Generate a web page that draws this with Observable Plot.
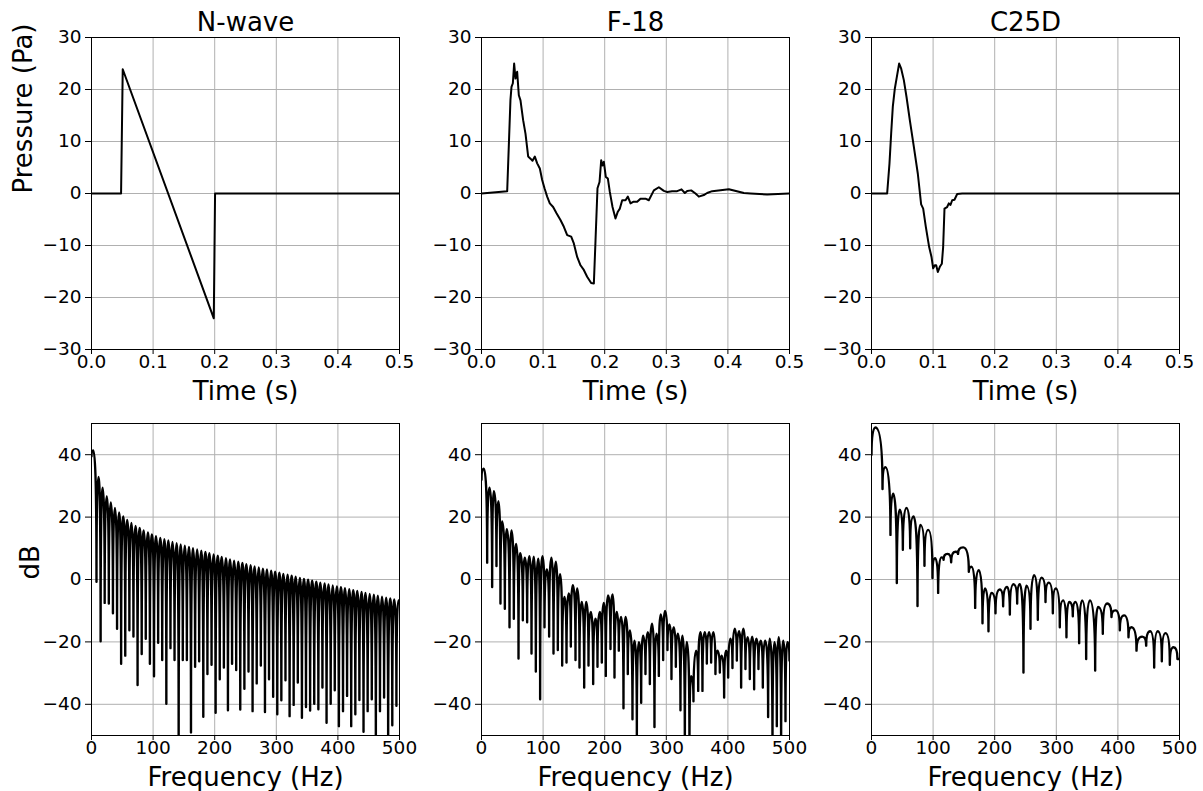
<!DOCTYPE html>
<html><head><meta charset="utf-8">
<script src="https://cdn.jsdelivr.net/npm/d3@7"></script>
<script src="https://cdn.jsdelivr.net/npm/@observablehq/plot@0.6"></script>
<style>
body{margin:0;background:#fff;}
#chart{position:relative;width:1203px;height:791px;overflow:hidden;background:#fff;}
#chart svg{position:absolute;}
</style></head><body><div id="chart"></div>
<script>
// ---------- Titles / labels ----------
const titles = ["N-wave", "F-18", "C25D"];
const timeLabel = "Time (s)";
const freqLabel = "Frequency (Hz)";
const pressureLabel = "Pressure (Pa)";
const dbLabel = "dB";
const timeTicks = [0, 0.1, 0.2, 0.3, 0.4, 0.5];
const pressureTicks = [-30, -20, -10, 0, 10, 20, 30];
const freqTicks = [0, 100, 200, 300, 400, 500];
const dbTicks = [-40, -20, 0, 20, 40];

// ---------- Time signals ----------
const nwaveT = [0, 0.048, 0.0507, 0.1985, 0.2006, 0.5];
const nwaveP = [0, 0, 23.9, -24, 0, 0];

const f18T = [0, 0.0417, 0.047, 0.0487, 0.0509, 0.053, 0.0552, 0.0579, 0.0606, 0.0633, 0.0676, 0.0714, 0.0758, 0.0795, 0.0828, 0.0866, 0.0904, 0.0947, 0.0985, 0.1023, 0.1066, 0.1109, 0.1163, 0.1218, 0.1282, 0.1337, 0.1391, 0.1456, 0.1499, 0.1553, 0.1607, 0.1661, 0.1715, 0.178, 0.1824, 0.1851, 0.1883, 0.1916, 0.1943, 0.1964, 0.1986, 0.2018, 0.2051, 0.2083, 0.2127, 0.2175, 0.2213, 0.2246, 0.2284, 0.2338, 0.2376, 0.2419, 0.2462, 0.2527, 0.2581, 0.2662, 0.2716, 0.2798, 0.2879, 0.296, 0.3014, 0.3095, 0.3176, 0.3247, 0.3301, 0.3339, 0.3404, 0.3474, 0.3528, 0.3609, 0.3663, 0.3745, 0.4015, 0.4259, 0.4367, 0.4637, 0.5];
const f18P = [0, 0.45, 18, 20.5, 21.2, 25, 22.1, 23.4, 18.9, 17.9, 14.1, 11.5, 7.1, 6.7, 6.3, 7.1, 5.8, 4.8, 2.6, 1, -0.6, -1.9, -2.6, -3.8, -5.1, -6.4, -8, -8.3, -9.6, -12.2, -13.8, -14.7, -16, -17.2, -17.3, -9, 1, 2.2, 6.4, 5.4, 6.1, 3.2, 2.9, 0.3, -2.6, -4.8, -3.5, -2.9, -1.3, -1.3, -0.6, -1.9, -1.6, -1.6, -1, -1, -1.3, 0.6, 1.2, 0.5, 0.3, 0.45, 0.45, 0.8, 0.1, 0.5, 0.6, 0, -0.6, -0.3, 0.1, 0.45, 0.8, 0.1, 0, -0.2, 0];

const c25T = [0, 0.0254, 0.0292, 0.0319, 0.0346, 0.0379, 0.0417, 0.0449, 0.0482, 0.0525, 0.0568, 0.0622, 0.0687, 0.0752, 0.0806, 0.0839, 0.0882, 0.0936, 0.0974, 0.1001, 0.1028, 0.105, 0.1077, 0.1109, 0.1142, 0.1163, 0.1185, 0.1228, 0.1255, 0.1282, 0.131, 0.1347, 0.1391, 0.1472, 0.5];
const c25P = [0, 0, 5.8, 11.5, 16.7, 20.2, 22.8, 25, 24, 21.8, 18.6, 14.1, 9, 3.8, -2.1, -2.9, -6.4, -10.3, -12.2, -14.4, -13.8, -13.8, -15.1, -14.1, -13.5, -10.3, -2.9, -2.6, -1.9, -2.2, -1.3, -1.2, -0.1, 0, 0];

// ---------- Spectra ----------
// N-wave: lobe peaks and notches
const nwaveEdgeHz = [0, 500];
const nwaveEdgeDb = [39.5, -7.5];
const nwavePeakHz = [3, 11.4, 18.1, 24.8, 31.4, 38.1, 44.8, 51.5, 58.1, 64.8, 71.5, 78.1, 84.8, 91.5, 98.1, 104.8, 111.5, 118.2, 124.8, 131.5, 138.2, 144.8, 151.5, 158.2, 164.8, 171.5, 178.2, 184.8, 191.5, 198.2, 204.9, 211.5, 218.2, 224.9, 231.5, 238.2, 244.9, 251.5, 258.2, 264.9, 271.5, 278.2, 284.9, 291.5, 298.2, 304.9, 311.6, 318.2, 324.9, 331.6, 338.2, 344.9, 351.6, 358.2, 364.9, 371.6, 378.3, 384.9, 391.6, 398.3, 404.9, 411.6, 418.3, 424.9, 431.6, 438.3, 444.9, 451.6, 458.3, 464.9, 471.6, 478.3, 484.9, 491.6, 498.3];
const nwavePeakDb = [41.4, 32.9, 29.4, 26.7, 24.7, 22.9, 21.5, 20.2, 19.1, 18.1, 17.2, 16.5, 15.7, 15.1, 14.4, 13.9, 13.3, 12.9, 12.5, 12.0, 11.6, 11.2, 10.8, 10.4, 10.0, 9.6, 9.2, 8.8, 8.4, 8.0, 7.6, 7.2, 6.8, 6.4, 6.0, 5.7, 5.3, 4.9, 4.6, 4.2, 3.9, 3.5, 3.2, 2.8, 2.5, 2.2, 1.8, 1.5, 1.2, 0.9, 0.5, 0.2, -0.1, -0.4, -0.7, -1.0, -1.3, -1.6, -1.9, -2.2, -2.5, -2.8, -3.1, -3.4, -3.7, -4.0, -4.3, -4.6, -4.9, -5.2, -5.5, -5.8, -6.1, -6.4, -6.7];
const nwaveNotchHz = [8.1, 14.8, 21.4, 28.1, 34.8, 41.5, 48.1, 54.8, 61.5, 68.1, 74.8, 81.5, 88.1, 94.8, 101.5, 108.2, 114.8, 121.5, 128.2, 134.8, 141.5, 148.2, 154.8, 161.5, 168.2, 174.8, 181.5, 188.2, 194.9, 201.5, 208.2, 214.9, 221.5, 228.2, 234.9, 241.5, 248.2, 254.9, 261.5, 268.2, 274.9, 281.6, 288.2, 294.9, 301.6, 308.2, 314.9, 321.6, 328.2, 334.9, 341.6, 348.2, 354.9, 361.6, 368.3, 374.9, 381.6, 388.3, 394.9, 401.6, 408.3, 414.9, 421.6, 428.3, 434.9, 441.6, 448.3, 455, 461.6, 468.3, 475, 481.6, 488.3, 495];
const nwaveNotchDb = [-0.7, -19.8, -7.5, -7.7, -10.8, -15.8, -27, -24.4, -16.3, -18.3, -33.8, -23.9, -19, -27, -31, -20.3, -25.8, -39.8, -22, -25.8, -56, -25.8, -25.8, -49, -28, -26.2, -44, -30.3, -27.3, -42.7, -32, -28.2, -41.9, -27, -29, -41.7, -35, -29.5, -42.2, -33.3, -27.6, -42.5, -32, -37.6, -43.2, -38.7, -32.3, -43.8, -40.2, -33, -44.3, -40.9, -42, -39.8, -41.6, -34.6, -45.9, -39.8, -35.5, -47, -42.2, -37.3, -47, -43.2, -38.6, -48.8, -42.2, -38.4, -56, -42.2, -37.8, -56, -46.7, -40.5];

const f18Hz = [0, 3.8, 9.2, 13, 17.3, 20, 24.3, 27.6, 30.8, 33.5, 37.9, 41.1, 45.5, 48.7, 52.5, 56.3, 60.1, 62.8, 67.1, 70.3, 74.1, 77.9, 81.2, 84.9, 88.2, 92, 95.2, 99, 102.3, 106.1, 109.8, 113.6, 116.9, 120.7, 123.9, 127.7, 131, 134.7, 138, 141.8, 145, 148.3, 152.6, 155.3, 159.1, 162.9, 166.7, 169.9, 173.7, 177.5, 181.3, 185.1, 188.3, 192.1, 195.3, 198.6, 201.8, 205.6, 209.4, 212.7, 215.9, 219.7, 222.9, 226.7, 230.5, 233.8, 237.5, 240.8, 245.1, 248.4, 252.2, 255.4, 259.2, 262.4, 266.2, 270, 273.3, 277, 280.8, 284.1, 287.9, 291.1, 294.9, 298.1, 301.9, 305.2, 308.4, 312.2, 315.5, 318.7, 323, 326.3, 330.1, 333.3, 337.6, 340.3, 344.1, 348.5, 351.8, 355.5, 358.7, 362.5, 365.8, 369.5, 372.8, 376.6, 379.8, 383, 386.9, 390.1, 393.9, 397.1, 400.4, 404.2, 407.4, 411.2, 414.5, 418.2, 421.5, 425.3, 428.5, 432.3, 435.6, 439.4, 442.6, 446.4, 449.6, 453.4, 456.7, 460.5, 465.3, 468, 472.4, 475.6, 479.4, 482.6, 486.4, 489.7, 493.5, 496.7, 500];
const f18Db = [32, 35.5, 5.4, 29.4, -2.4, 28.3, 4.3, 25.1, -7.7, 18.6, -9.4, 16.1, -15.3, 15.7, -12.6, 11.4, -25.3, 8.4, -13.1, 7, -13.7, 7.5, -23.7, 7.3, -29.5, 6.7, -38.4, 7.5, -15.3, 3.2, -18.3, 7, -23.7, 5.7, -22.6, 1.7, -27.6, -5.6, -26.6, -4.5, -21.5, -1.8, -25.8, -2.9, -28.2, -7.2, -34.6, -7.2, -27.6, -10.4, -33.5, -12.6, -28, -10.4, -26.6, -7.5, -30.9, -5.1, -22.3, -4.8, -31.4, -10.4, -22.8, -12, -41.3, -12, -30.3, -16.3, -44.8, -19.6, -50.5, -20.1, -39.5, -18, -30.3, -16.9, -33.5, -14.2, -47.3, -17.4, -30.9, -11.2, -25.8, -10.1, -22.6, -14.4, -31.9, -15.3, -28, -17.4, -41.9, -18, -56, -20, -56, -31, -39, -22.8, -35.7, -16.9, -35.7, -16.9, -26.9, -16.9, -26.6, -16.9, -30.3, -22.8, -29.8, -24.4, -37.8, -22.8, -31.4, -19, -28.4, -15.8, -26, -16.6, -34.6, -15.8, -28.7, -18.5, -31.9, -18.3, -35.2, -19, -28.7, -19.6, -34.6, -19.6, -44.1, -19, -56, -20.1, -47, -18.5, -56, -19.6, -45.4, -20.1, -26];

const c25Hz = [0, 6.5, 17.9, 22.7, 30.8, 35.2, 41.1, 46, 50.9, 56.8, 62.8, 68.2, 74.7, 79.5, 86, 92, 99, 103.4, 108.2, 113.6, 117, 123.4, 129.3, 136.4, 140.5, 148.8, 158, 162.3, 168.3, 174.2, 180.2, 184.5, 189.9, 194.8, 201.3, 208.3, 213.7, 220.2, 224.6, 230.5, 236.5, 240.8, 246.7, 251.6, 258.1, 264, 270, 276, 282.5, 287.9, 294.4, 299.2, 305.7, 311.1, 316.5, 320.9, 326.8, 331.2, 337.1, 342, 348.5, 354.4, 363.1, 367.9, 375.5, 382.5, 389.6, 396.1, 403.1, 410.1, 417.2, 422, 430.2, 439.4, 445.9, 452.4, 458.9, 464.8, 471.3, 477.3, 484.3, 490.2, 496.7, 500];
const c25Db = [40, 48.7, 29, 36, 14.3, 27.5, -1.1, 22.4, 9.5, 22.9, 10, 20.2, -8.5, 17.5, 4.4, 15.9, 0.5, 6.8, -4.3, 7.1, 6.3, 8.2, 5.5, 8.9, 8.2, 10.3, 2.5, 4.1, -9.1, 3, -14, -2.9, -16.6, -4.3, -10.8, -3.2, -8.6, -2.4, -11.2, -1.5, -7.7, -1.5, -29.8, -2, -15.8, 1.4, -12.9, 0.6, -7.2, -1, -10.8, -2.9, -15.3, -6.7, -18.5, -7.2, -11.8, -7.2, -20.4, -6.7, -25.5, -6.7, -29.2, -8.8, -17.4, -7.7, -12, -9.9, -16.3, -11.5, -18.5, -15.3, -22.8, -18.3, -21.2, -16.6, -28.2, -16.6, -26.2, -17.2, -27.3, -21.7, -25.5, -25.5];

// ---------- Build tables ----------
const zipXY = (xs, ys) => xs.map((x, i) => ({x, y: ys[i]}));
const nwaveSpec = [{x: nwaveEdgeHz[0], y: nwaveEdgeDb[0]}];
nwavePeakHz.forEach((h, i) => {
  nwaveSpec.push({x: h, y: nwavePeakDb[i]});
  if (i < nwaveNotchHz.length) nwaveSpec.push({x: nwaveNotchHz[i], y: nwaveNotchDb[i]});
});
nwaveSpec.push({x: nwaveEdgeHz[1], y: nwaveEdgeDb[1]});

// curve: rounded lobes, sharp notches
function archCurve(context) {
  let px, py, n = 0;
  return {
    areaStart() {}, areaEnd() {},
    lineStart() { n = 0; },
    lineEnd() {},
    point(x, y) {
      x = +x; y = +y;
      if (n === 0) context.moveTo(x, y);
      else if (y > py) context.quadraticCurveTo(x, py, x, y);
      else context.quadraticCurveTo(px, y, x, y);
      px = x; py = y; n++;
    }
  };
}

const fmtMinus = d => d < 0 ? "\u2212" + Math.abs(d) : String(d);
const chart = document.getElementById("chart");

function panel({data, row, col, curve}) {
  const top = row === 0;
  const xt = top ? timeTicks : freqTicks;
  const yt = top ? pressureTicks : dbTicks;
  const marks = [
    Plot.gridX(xt, {stroke: "#b0b0b0", strokeOpacity: 1, strokeWidth: 1}),
    Plot.gridY(yt, {stroke: "#b0b0b0", strokeOpacity: 1, strokeWidth: 1}),
    Plot.line(data, {x: "x", y: "y", stroke: "black", strokeWidth: top ? 2 : 2.4, curve, clip: true}),
    Plot.frame({stroke: "black", strokeWidth: 1}),
    Plot.axisX({ticks: xt, tickFormat: top ? (d => d.toFixed(1)) : (d => String(d)), tickSize: 5, tickPadding: 0, fontSize: 18.5, label: null}),
    Plot.axisY({ticks: yt, tickFormat: fmtMinus, tickSize: 6, tickPadding: 4, fontSize: 18.5, label: null}),
    Plot.text([top ? timeLabel : freqLabel], {text: d => d, frameAnchor: "bottom", dy: 42, lineAnchor: "middle", fontSize: 26})
  ];
  if (top) marks.push(Plot.text([titles[col]], {text: d => d, frameAnchor: "top", dy: -15, lineAnchor: "middle", fontSize: 26}));
  if (col === 0) marks.push(Plot.text([top ? pressureLabel : dbLabel], {text: d => d, frameAnchor: "left", dx: top ? -68 : -61, rotate: -90, lineAnchor: "middle", fontSize: 26}));
  const svg = Plot.plot({
    width: 400,
    height: top ? 410 : 405,
    marginLeft: 91, marginRight: 1, marginTop: 37, marginBottom: top ? 61 : 56,
    style: {background: "transparent", fontFamily: "'DejaVu Sans', sans-serif", fontSize: "18px", color: "black", overflow: "visible"},
    x: {domain: top ? [0, 0.5] : [0, 500]},
    y: {domain: top ? [-30, 30] : [-50, 50]},
    marks
  });
  svg.style.left = (col * 390) + "px";
  svg.style.top = (top ? 0 : 386) + "px";
  chart.appendChild(svg);
}

panel({data: zipXY(nwaveT, nwaveP), row: 0, col: 0, curve: "linear"});
panel({data: zipXY(f18T, f18P), row: 0, col: 1, curve: "linear"});
panel({data: zipXY(c25T, c25P), row: 0, col: 2, curve: "linear"});
panel({data: nwaveSpec, row: 1, col: 0, curve: archCurve});
panel({data: zipXY(f18Hz, f18Db), row: 1, col: 1, curve: archCurve});
panel({data: zipXY(c25Hz, c25Db), row: 1, col: 2, curve: archCurve});
</script></body></html>
